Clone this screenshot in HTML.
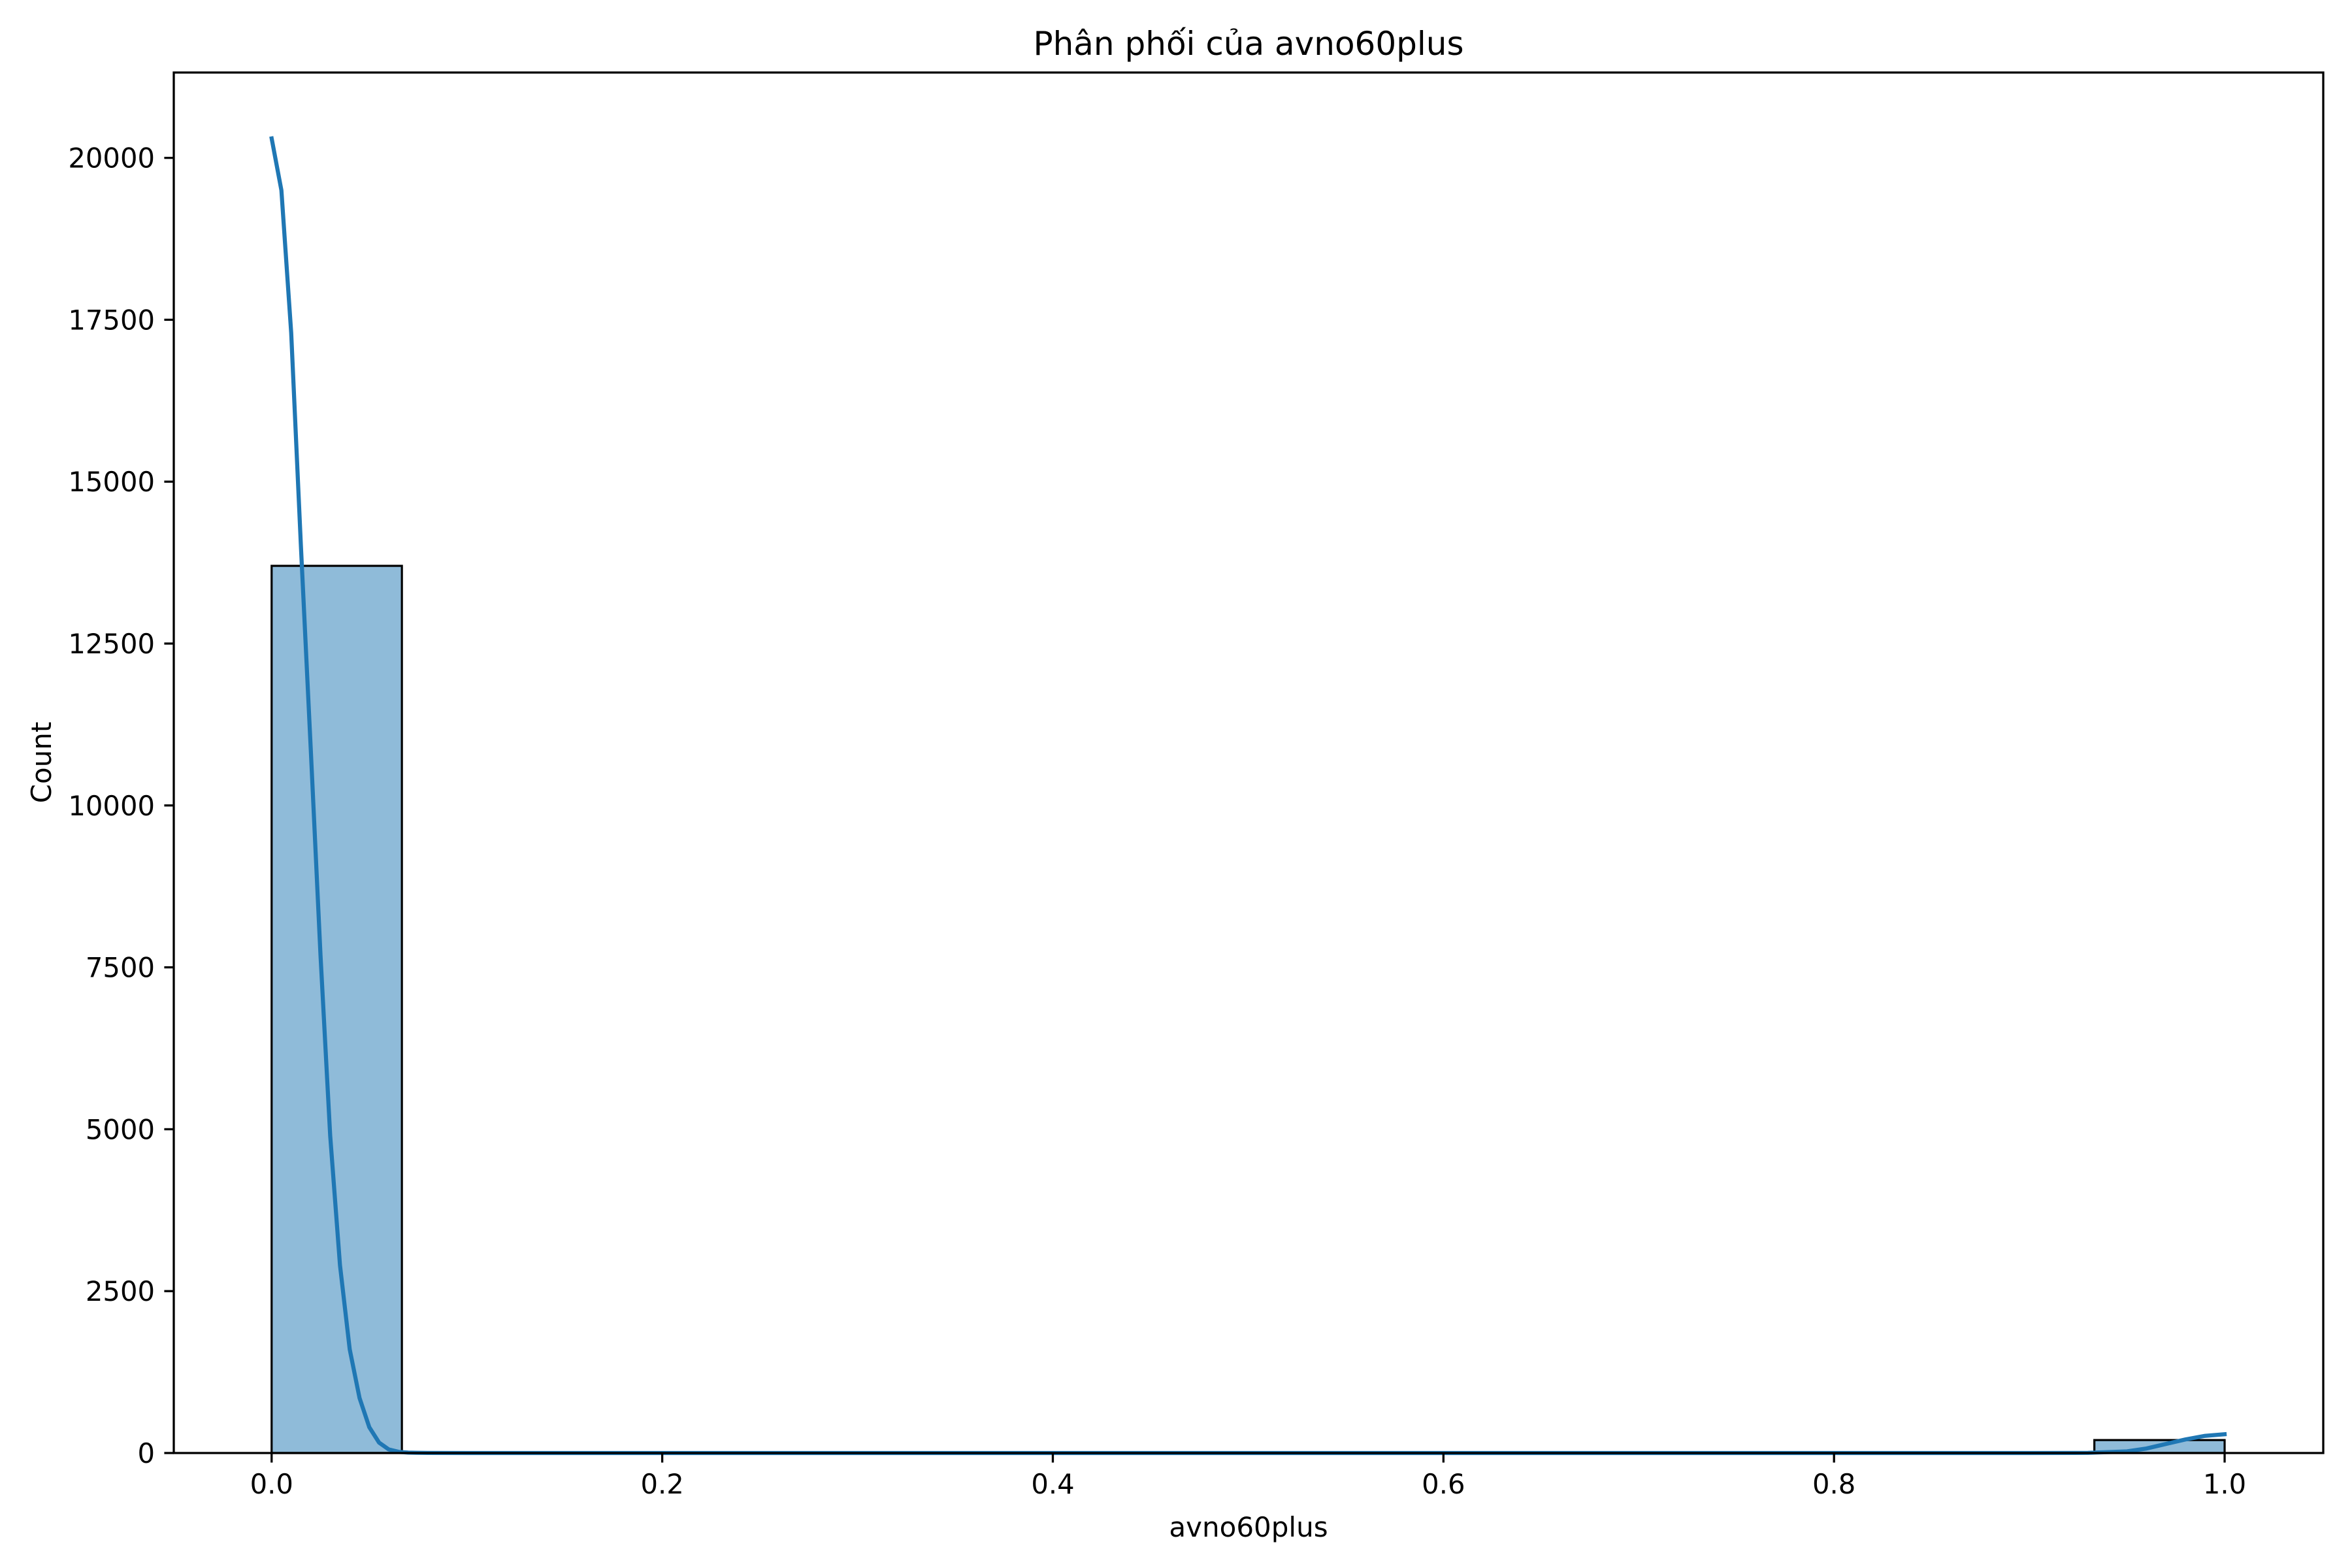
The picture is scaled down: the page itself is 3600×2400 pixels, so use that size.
<!DOCTYPE html>
<html><head><meta charset="utf-8"><style>
html,body{margin:0;padding:0;background:#fff;}
svg{display:block;font-family:"DejaVu Sans","Liberation Sans",sans-serif;}
</style></head>
<body>
<svg id="chart" width="3600" height="2400" viewBox="0 0 3600 2400" xmlns="http://www.w3.org/2000/svg">
<rect width="3600" height="2400" fill="#fff"/>
<g id="bars"></g>
<g id="kde"></g>
<g id="axes"></g>
<text x="1911" y="84" font-size="50" text-anchor="middle">Phân phối của avno60plus</text>
<text x="1911" y="2352" font-size="42" text-anchor="middle">avno60plus</text>
<text x="78" y="1167" font-size="42" text-anchor="middle" transform="rotate(-90 78 1167)">Count</text>
</svg>
<script>
const binEdges = [0, 0.0667, 0.1333, 0.2, 0.2667, 0.3333, 0.4, 0.4667, 0.5333, 0.6, 0.6667, 0.7333, 0.8, 0.8667, 0.9333, 1.0];
const binCounts = [13700, 0, 0, 0, 0, 0, 0, 0, 0, 0, 0, 0, 0, 0, 200];
const kdeX = [0, 0.005, 0.01, 0.015, 0.02, 0.025, 0.03, 0.035, 0.04, 0.045, 0.05, 0.055, 0.06, 0.065, 0.07, 0.08, 0.1, 0.5, 0.9, 0.93, 0.95, 0.96, 0.97, 0.98, 0.99, 1.0];
const kdeY = [20300, 19500, 17300, 14000, 10900, 7700, 4900, 2900, 1600, 850, 400, 160, 55, 18, 6, 1, 0, 0, 0, 2, 25, 70, 140, 210, 265, 290];
const xTicks = [0, 0.2, 0.4, 0.6, 0.8, 1.0];
const xTickLabels = ["0.0", "0.2", "0.4", "0.6", "0.8", "1.0"];
const yTicks = [0, 2500, 5000, 7500, 10000, 12500, 15000, 17500, 20000];
const yTickLabels = ["0", "2500", "5000", "7500", "10000", "12500", "15000", "17500", "20000"];

const L = 266, R = 3556, T = 111, B = 2224;
const xMin = -0.0501, xMax = 1.0505, yMin = 0, yMax = 21318;
function xs(v){ return L + (v - xMin) / (xMax - xMin) * (R - L); }
function ys(v){ return B - (v - yMin) / (yMax - yMin) * (B - T); }
const NS = "http://www.w3.org/2000/svg";
function mk(tag, attrs, parent){
  const e = document.createElementNS(NS, tag);
  for (const k in attrs) e.setAttribute(k, attrs[k]);
  parent.appendChild(e);
  return e;
}
const barsG = document.getElementById('bars');
binCounts.forEach((c, i) => {
  if (c <= 0) return;
  const x0 = xs(binEdges[i]), x1 = xs(binEdges[i+1]);
  const r = mk('rect', {x: x0, y: ys(c), width: x1 - x0, height: ys(0) - ys(c), fill: '#8fbbd9', stroke: '#000', 'stroke-width': 3.2}, barsG);
  
  
});
const kdeG = document.getElementById('kde');
let d = kdeX.map((v, i) => (i ? 'L' : 'M') + xs(v).toFixed(1) + ' ' + ys(kdeY[i]).toFixed(1)).join(' ');
const line = mk('path', {d: d, fill: 'none', stroke: '#1f77b4', 'stroke-width': 6.25, 'stroke-linejoin': 'round', 'stroke-linecap': 'square'}, kdeG);



const ax = document.getElementById('axes');
const frame = mk('rect', {x: L, y: T, width: R - L, height: B - T, fill: 'none', stroke: '#000', 'stroke-width': 3.3}, ax);


xTicks.forEach((v, i) => {
  const x = xs(v);
  const t = mk('line', {x1: x, x2: x, y1: B, y2: B + 14.6, stroke: '#000', 'stroke-width': 3.3}, ax);
  
  
  const lb = mk('text', {x: x, y: B + 62, 'font-size': 41.7, 'text-anchor': 'middle'}, ax);
  lb.textContent = xTickLabels[i];
  
  
});
yTicks.forEach((v, i) => {
  const y = ys(v);
  const t = mk('line', {x1: L - 14.6, x2: L, y1: y, y2: y, stroke: '#000', 'stroke-width': 3.3}, ax);
  
  
  const lb = mk('text', {x: L - 29, y: y + 15, 'font-size': 41.7, 'text-anchor': 'end'}, ax);
  lb.textContent = yTickLabels[i];
  
  
});
</script>
</body></html>
